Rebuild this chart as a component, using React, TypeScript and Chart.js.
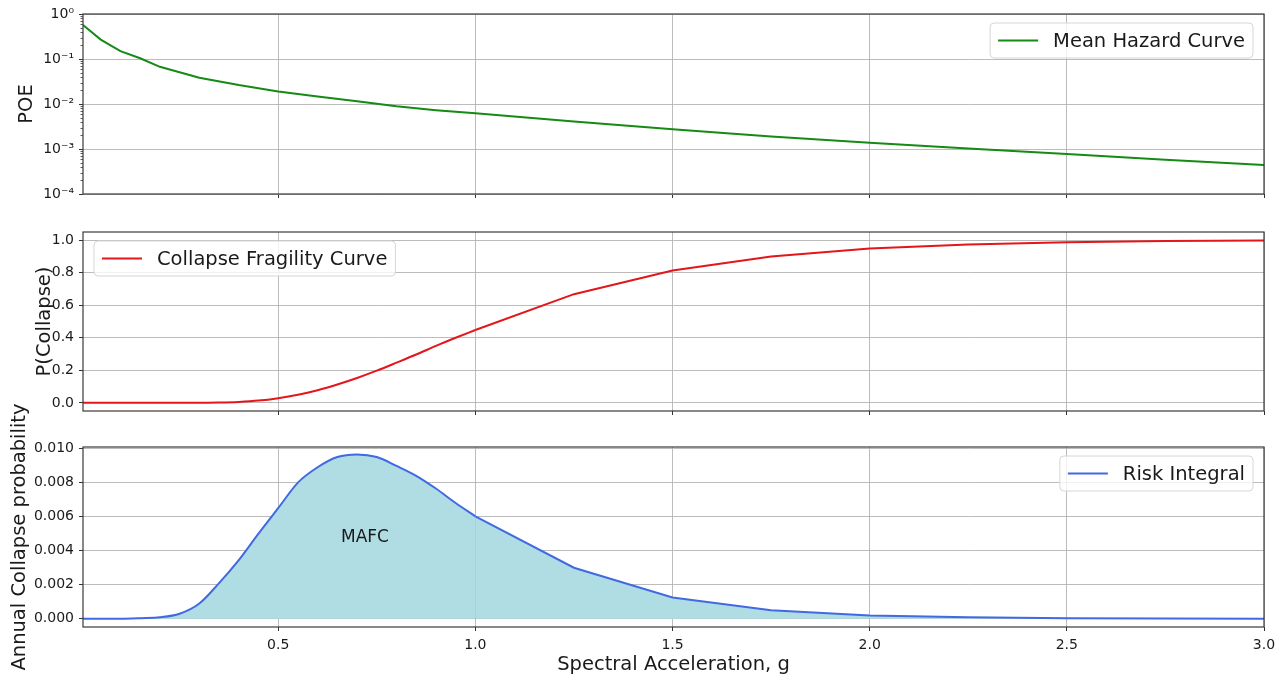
import React, { useEffect, useRef } from 'react';
import { Chart, registerables } from 'chart.js';

Chart.register(...registerables);

const FONT = '"DejaVu Sans", Verdana, sans-serif';

// ---------- data ----------
const X_MIN = 0.005;
const X_MAX = 3.0;
const xTicks = [0.5, 1.0, 1.5, 2.0, 2.5, 3.0];

const hazardLabel = 'Mean Hazard Curve';
const hazardSa = [0.005, 0.05, 0.1, 0.15, 0.2, 0.3, 0.4, 0.5, 0.6, 0.7, 0.8, 0.9, 1.0, 1.25, 1.5, 1.75, 2.0, 2.25, 2.5, 2.75, 3.0];
const hazardPoe = [0.57, 0.27, 0.15, 0.104, 0.067, 0.0385, 0.0263, 0.019, 0.0146, 0.0115, 0.0089, 0.0073, 0.0062, 0.0041, 0.00274, 0.0019, 0.00138, 0.00102, 0.00077, 0.00058, 0.00044];
const poeTicks = [1e-4, 1e-3, 1e-2, 1e-1, 1];

const fragLabel = 'Collapse Fragility Curve';
const fragSa = [0.005, 0.1, 0.2, 0.25, 0.3, 0.35, 0.4, 0.45, 0.5, 0.55, 0.6, 0.65, 0.7, 0.75, 0.8, 0.85, 0.9, 0.95, 1.0, 1.25, 1.5, 1.75, 2.0, 2.25, 2.5, 2.75, 3.0];
const fragP = [0, 0, 0, 0.0001, 0.0006, 0.002, 0.006, 0.014, 0.029, 0.05, 0.078, 0.113, 0.153, 0.198, 0.247, 0.297, 0.35, 0.4, 0.448, 0.668, 0.813, 0.9, 0.948, 0.973, 0.987, 0.994, 0.997];
const fragTicks = [0, 0.2, 0.4, 0.6, 0.8, 1.0];

const riskLabel = 'Risk Integral';
const riskSa = [0.005, 0.05, 0.1, 0.15, 0.2, 0.25, 0.3, 0.35, 0.4, 0.45, 0.5, 0.55, 0.6, 0.65, 0.7, 0.75, 0.8, 0.85, 0.9, 0.95, 1.0, 1.25, 1.5, 1.75, 2.0, 2.25, 2.5, 2.75, 3.0];
const riskVal = [0, 0, 0.000005, 0.00004, 0.00009, 0.0003, 0.0009, 0.0021, 0.00345, 0.005, 0.0065, 0.008, 0.0089, 0.0095, 0.00965, 0.0095, 0.00898, 0.0084, 0.00765, 0.0068, 0.00602, 0.003, 0.00125, 0.0005, 0.0002, 0.00009, 0.00004, 0.00002, 0.00001];
const riskTicks = [0, 0.002, 0.004, 0.006, 0.008, 0.01];
const mafcText = 'MAFC';
const mafcPos = { x: 0.72, y: 0.0048 };

const xTitle = 'Spectral Acceleration, g';
const yTitles = ['POE', 'P(Collapse)', 'Annual Collapse probability'];

// densely sampled (smooth) part of the curves ends here; coarse linear part after
const SMOOTH_UNTIL = 1.0;

// ---------- layout (positions/styles only) ----------
const W = 1286;
const H = 680;
const PLOT_LEFT = 83;
const PAD_RIGHT = 22;
const TICK_COLOR = '#1a1a1a';
const GRID_COLOR = 'rgba(176,176,176,0.85)';

const SUP: Record<string, string> = { '0': '⁰', '1': '¹', '2': '²', '3': '³', '4': '⁴', '5': '⁵', '6': '⁶', '7': '⁷', '8': '⁸', '9': '⁹', '-': '⁻' };
const powLabel = (v: number) => {
  const e = Math.round(Math.log10(v));
  return '10' + String(e).split('').map((c) => SUP[c] || c).join('');
};

const mplPlugin = {
  id: 'mpl',
  afterDatasetsDraw(chart: any, _args: any, opts: any) {
    const { ctx, chartArea: a } = chart;
    ctx.save();
    if (opts.minorLog) {
      const ys = chart.scales.y;
      ctx.strokeStyle = '#333';
      ctx.lineWidth = 0.8;
      for (let i = 0; i < poeTicks.length - 1; i++) {
        for (let m = 2; m <= 9; m++) {
          const y = Math.round(ys.getPixelForValue(poeTicks[i] * m)) + 0.5;
          ctx.beginPath();
          ctx.moveTo(a.left - 2.5, y);
          ctx.lineTo(a.left, y);
          ctx.stroke();
        }
      }
    }
    ctx.strokeStyle = '#3a3a3a';
    ctx.lineWidth = 1.2;
    ctx.strokeRect(a.left, a.top, a.right - a.left, a.bottom - a.top);

    if (opts.yTitle) {
      ctx.save();
      ctx.font = `19.5px ${FONT}`;
      ctx.fillStyle = TICK_COLOR;
      ctx.textAlign = 'center';
      ctx.textBaseline = 'middle';
      ctx.translate(a.left - opts.yTitleOffset, (a.top + a.bottom) / 2);
      ctx.rotate(-Math.PI / 2);
      ctx.fillText(opts.yTitle, 0, 0);
      ctx.restore();
    }

    if (opts.note) {
      const px = chart.scales.x.getPixelForValue(opts.note.x);
      const py = chart.scales.y.getPixelForValue(opts.note.y);
      ctx.font = `17px ${FONT}`;
      ctx.fillStyle = TICK_COLOR;
      ctx.textAlign = 'center';
      ctx.textBaseline = 'middle';
      ctx.fillText(opts.note.text, px, py);
    }

    const ds = chart.data.datasets[0];
    ctx.font = `19.5px ${FONT}`;
    const tw = ctx.measureText(ds.label).width;
    const pad = 8;
    const handle = 40;
    const gap = 15;
    const h = 35;
    const w = pad + handle + gap + tw + pad;
    const x0 = opts.side === 'right' ? a.right - 11 - w : a.left + 11;
    const y0 = a.top + 9;
    ctx.beginPath();
    ctx.roundRect(x0, y0, w, h, 4);
    ctx.fillStyle = 'rgba(255,255,255,0.8)';
    ctx.fill();
    ctx.strokeStyle = '#d6d6d6';
    ctx.lineWidth = 1;
    ctx.stroke();
    ctx.beginPath();
    ctx.strokeStyle = ds.borderColor;
    ctx.lineWidth = ds.borderWidth;
    ctx.moveTo(x0 + pad, y0 + h / 2);
    ctx.lineTo(x0 + pad + handle, y0 + h / 2);
    ctx.stroke();
    ctx.fillStyle = TICK_COLOR;
    ctx.textAlign = 'left';
    ctx.textBaseline = 'middle';
    ctx.fillText(ds.label, x0 + pad + handle + gap, y0 + h / 2 + 1);
    ctx.restore();
  },
};

type Panel = {
  label: string;
  xs: number[];
  ys: number[];
  color: string;
  fill?: string;
  smooth?: boolean;
  yType: 'linear' | 'logarithmic';
  yMin: number;
  yMax: number;
  yTicks: number[];
  yFmt: (v: number) => string;
  top: number;
  bottom: number;
  showX: boolean;
  side: 'left' | 'right';
  yTitle: string;
  yTitleOffset: number;
  minorLog?: boolean;
  note?: { x: number; y: number; text: string };
};

const panels: Panel[] = [
  {
    label: hazardLabel, xs: hazardSa, ys: hazardPoe, color: '#158a15',
    yType: 'logarithmic', yMin: 1e-4, yMax: 1, yTicks: poeTicks, yFmt: powLabel,
    top: 14, bottom: 194, showX: false, side: 'right', yTitle: yTitles[0], yTitleOffset: 56, minorLog: true,
  },
  {
    label: fragLabel, xs: fragSa, ys: fragP, color: '#e3161b', smooth: true,
    yType: 'linear', yMin: -0.05, yMax: 1.05, yTicks: fragTicks, yFmt: (v) => v.toFixed(1),
    top: 232, bottom: 411, showX: false, side: 'left', yTitle: yTitles[1], yTitleOffset: 38,
  },
  {
    label: riskLabel, xs: riskSa, ys: riskVal, color: '#4169e1', fill: '#b0dde4', smooth: true,
    yType: 'linear', yMin: -0.00048, yMax: 0.01009, yTicks: riskTicks, yFmt: (v) => v.toFixed(3),
    top: 447, bottom: 627, showX: true, side: 'right', yTitle: yTitles[2], yTitleOffset: 63,
    note: { x: mafcPos.x, y: mafcPos.y, text: mafcText },
  },
];

function makeDatasets(p: Panel) {
  const pts = p.xs.map((x, i) => ({ x, y: p.ys[i] }));
  const base = {
    label: p.label,
    borderColor: p.color,
    borderWidth: 2,
    pointRadius: 0,
    fill: p.fill ? 'origin' : false,
    backgroundColor: p.fill || 'transparent',
  };
  if (!p.smooth) return [{ ...base, data: pts, tension: 0 }];
  return [
    { ...base, data: pts.filter((d) => d.x <= SMOOTH_UNTIL), cubicInterpolationMode: 'monotone' },
    { ...base, data: pts.filter((d) => d.x >= SMOOTH_UNTIL), tension: 0 },
  ];
}

function makeConfig(p: Panel): any {
  const xHeight = p.showX ? 53 : 0;
  return {
    type: 'line',
    data: { datasets: makeDatasets(p) },
    options: {
      responsive: false,
      animation: false,
      events: [],
      layout: {
        padding: { left: 0, right: PAD_RIGHT, top: p.top, bottom: H - p.bottom - xHeight },
      },
      plugins: {
        legend: { display: false },
        tooltip: { enabled: false },
        title: { display: false },
        mpl: {
          side: p.side,
          yTitle: p.yTitle,
          yTitleOffset: p.yTitleOffset,
          minorLog: !!p.minorLog,
          note: p.note,
        },
      },
      scales: {
        x: {
          type: 'linear',
          min: X_MIN,
          max: X_MAX,
          afterBuildTicks: (s: any) => {
            s.ticks = xTicks.map((v) => ({ value: v }));
          },
          afterFit: (s: any) => {
            s.height = xHeight;
          },
          border: { display: false },
          grid: { color: GRID_COLOR, lineWidth: 1, tickColor: '#333', tickLength: 4, drawTicks: true },
          ticks: {
            display: p.showX,
            padding: 6,
            color: TICK_COLOR,
            font: { family: FONT, size: 14 },
            maxRotation: 0,
            callback: (v: number) => Number(v).toFixed(1),
          },
          title: {
            display: p.showX,
            text: xTitle,
            color: TICK_COLOR,
            font: { family: FONT, size: 19.5 },
            padding: { top: 0, bottom: 3 },
          },
        },
        y: {
          type: p.yType,
          min: p.yMin,
          max: p.yMax,
          afterBuildTicks: (s: any) => {
            s.ticks = p.yTicks.map((v) => ({ value: v }));
          },
          afterFit: (s: any) => {
            s.width = PLOT_LEFT;
          },
          border: { display: false },
          grid: { color: GRID_COLOR, lineWidth: 1, tickColor: '#333', tickLength: 4, drawTicks: true },
          ticks: {
            padding: 5,
            color: TICK_COLOR,
            font: { family: FONT, size: 14 },
            callback: (v: number) => p.yFmt(Number(v)),
          },
        },
      },
    },
    plugins: [mplPlugin],
  };
}

export default function App() {
  const refs = [useRef<HTMLCanvasElement>(null), useRef<HTMLCanvasElement>(null), useRef<HTMLCanvasElement>(null)];

  useEffect(() => {
    const charts = panels.map((p, i) => new Chart(refs[i].current as HTMLCanvasElement, makeConfig(p)));
    return () => charts.forEach((c) => c.destroy());
  }, []);

  return (
    <div style={{ position: 'absolute', left: 0, top: 0, width: W, height: H, background: '#fff' }}>
      {refs.map((r, i) => (
        <canvas
          key={i}
          ref={r}
          width={W}
          height={H}
          style={{ position: 'absolute', left: 0, top: 0, width: W, height: H }}
        />
      ))}
    </div>
  );
}
